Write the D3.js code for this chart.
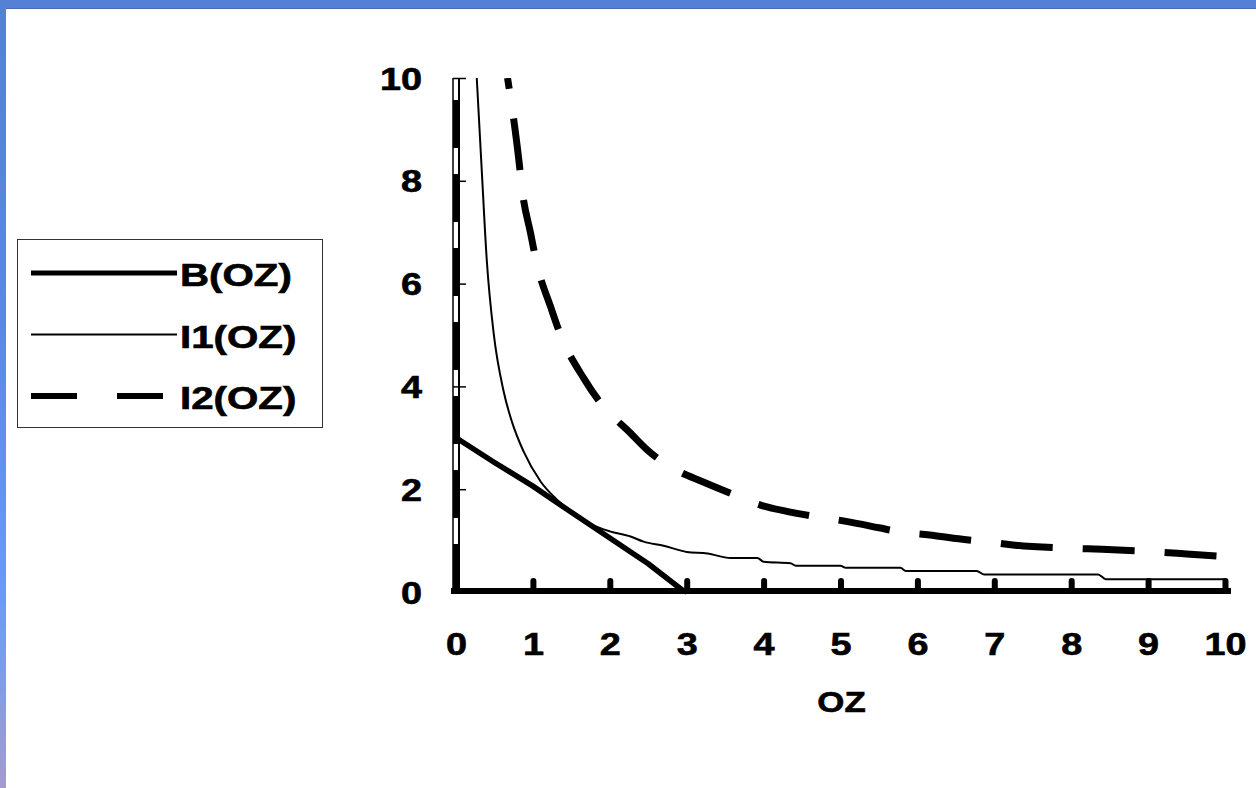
<!DOCTYPE html>
<html>
<head>
<meta charset="utf-8">
<script src="https://cdn.jsdelivr.net/npm/d3@7"></script>
<style>
  html, body { margin: 0; padding: 0; background: #ffffff; }
  svg { display: block; }
  text { font-family: "Liberation Sans", Arial, sans-serif; font-weight: bold; fill: #000; stroke: #000; stroke-width: 0.6px; }
</style>
</head>
<body>
<script>
// ---------- data ----------
const xTickValues = [0, 1, 2, 3, 4, 5, 6, 7, 8, 9, 10];
const yTickValues = [0, 2, 4, 6, 8, 10];
const xTitle = "OZ";
const seriesNames = ["B(OZ)", "I1(OZ)", "I2(OZ)"];

// B(OZ)
const bOZ = [0, 0.5, 1, 1.5, 2, 2.5, 2.95, 3];
const bVal = [3, 2.52, 2.06, 1.55, 1.05, 0.55, 0.03, 0];

// I1(OZ)
const i1OZ = [0.27, 0.335, 0.40, 0.49, 0.62, 0.73, 0.88, 1.1, 1.31, 1.53, 1.75, 2.0, 2.27, 2.44, 2.7, 3.0, 3.27, 3.57, 3.92, 4.0, 4.35, 4.42, 5.0, 5.07, 5.78, 5.85, 6.77, 6.87, 8.35, 8.45, 10];
const i1Val = [10, 8.2, 6.46, 5.03, 3.9, 3.3, 2.73, 2.15, 1.8, 1.52, 1.32, 1.18, 1.08, 0.98, 0.9, 0.78, 0.75, 0.66, 0.66, 0.59, 0.56, 0.51, 0.51, 0.47, 0.47, 0.41, 0.41, 0.34, 0.34, 0.25, 0.25];

// I2(OZ)
const i2OZ = [0.67, 0.75, 0.82, 0.86, 0.97, 1.05, 1.23, 1.36, 1.66, 1.9, 2.27, 2.49, 2.88, 3.2, 3.57, 3.96, 4.3, 4.66, 5.09, 5.5, 5.77, 6.16, 6.5, 6.88, 7.27, 8.0, 8.4, 9.07, 9.5, 10];
const i2Val = [10, 9.2, 8.37, 7.82, 6.98, 6.39, 5.55, 5.0, 4.16, 3.64, 3.09, 2.76, 2.36, 2.15, 1.92, 1.69, 1.57, 1.47, 1.37, 1.25, 1.17, 1.11, 1.04, 0.98, 0.91, 0.85, 0.83, 0.78, 0.74, 0.69];

// vertical run drawn by I1 / I2 at OZ = 0
const spikeOZ = [0, 0];
const spikeVal = [0, 10];

// ---------- layout ----------
const W = 1256, H = 788;
const svg = d3.select("body").append("svg").attr("width", W).attr("height", H);

const defs = svg.append("defs");
const grad = defs.append("linearGradient").attr("id", "leftBand")
  .attr("x1", 0).attr("y1", 0).attr("x2", 0).attr("y2", 1);
[["0%", "#5580d6"], ["40%", "#5a88e4"], ["72%", "#6699fb"], ["86%", "#7f9ceb"], ["100%", "#a59bcb"]]
  .forEach(s => grad.append("stop").attr("offset", s[0]).attr("stop-color", s[1]));

svg.append("rect").attr("x", 0).attr("y", 0).attr("width", W).attr("height", H).attr("fill", "#fff");
svg.append("rect").attr("x", 0).attr("y", 0).attr("width", 6).attr("height", H).attr("fill", "url(#leftBand)");
svg.append("rect").attr("x", 0).attr("y", 0).attr("width", W).attr("height", 8).attr("fill", "#5580d6");
svg.append("rect").attr("x", 6).attr("y", 8).attr("width", W).attr("height", 1).attr("fill", "#4a6cb8");

const x = d3.scaleLinear().domain([0, 10]).range([456, 1225]);
const y = d3.scaleLinear().domain([0, 10]).range([592, 78]);

const FONT = 31, SX = 1.22;
function stretch(sel, sx) {
  sel.each(function () {
    const t = d3.select(this);
    const tx = +t.attr("x") || 0;
    t.attr("x", 0).attr("transform", `translate(${tx},0) scale(${sx},1)`);
  });
}

const zip = (a, b) => a.map((v, i) => [v, b[i]]);
const line = d3.line().x(d => x(d[0])).y(d => y(d[1]));
const smooth = d3.line().x(d => x(d[0])).y(d => y(d[1])).curve(d3.curveMonotoneX);

defs.append("clipPath").attr("id", "plotClip").append("rect")
  .attr("x", x(0) - 12).attr("y", y(10)).attr("width", x(10) - x(0) + 24).attr("height", y(0) - y(10) + 6);

// y axis
const yAxisG = svg.append("g").attr("transform", `translate(${x(0)},0)`)
  .call(d3.axisLeft(y).tickValues(yTickValues).tickSizeInner(-10).tickSizeOuter(0).tickPadding(34));
yAxisG.select(".domain").remove();
yAxisG.selectAll(".tick line").attr("stroke", "#000").attr("stroke-width", 1.5).attr("x1", -3);
yAxisG.selectAll(".tick text").style("font-size", FONT + "px").attr("dy", "0.36em");
stretch(yAxisG.selectAll(".tick text"), SX);
svg.append("line").attr("x1", x(0) + 3).attr("x2", x(0) + 3).attr("y1", y(10)).attr("y2", y(0))
  .attr("stroke", "#000").attr("stroke-width", 2);

// series
const plot = svg.append("g").attr("clip-path", "url(#plotClip)");
const spike = zip(spikeOZ, spikeVal);
plot.append("path").datum(spike).attr("d", line).attr("transform", "translate(-3,0)")
  .attr("fill", "none").attr("stroke", "#000").attr("stroke-width", 1.5);
plot.append("path").datum(spike).attr("d", line).attr("transform", "translate(0.5,0)")
  .attr("fill", "none").attr("stroke", "#000").attr("stroke-width", 7)
  .attr("stroke-dasharray", "48,26");

plot.append("path").datum(zip(i1OZ, i1Val)).attr("d", smooth)
  .attr("fill", "none").attr("stroke", "#000").attr("stroke-width", 2).attr("stroke-linejoin", "round");
plot.append("path").datum(zip(i2OZ, i2Val)).attr("d", smooth)
  .attr("fill", "none").attr("stroke", "#000").attr("stroke-width", 7)
  .attr("stroke-dasharray", "52,30").attr("stroke-dashoffset", 41);
plot.append("path").datum(zip(bOZ, bVal)).attr("d", line)
  .attr("fill", "none").attr("stroke", "#000").attr("stroke-width", 5.5).attr("stroke-linejoin", "round");

// x axis
const xAxisG = svg.append("g").attr("transform", `translate(0,${y(0) - 1})`)
  .call(d3.axisBottom(x).tickValues(xTickValues).tickSizeInner(-12).tickSizeOuter(0).tickPadding(42));
xAxisG.select(".domain").remove();
xAxisG.selectAll(".tick line").attr("stroke", "#000").attr("stroke-width", 6).attr("stroke-linecap", "round").attr("y1", 0).attr("y2", -10);
xAxisG.selectAll(".tick text").style("font-size", FONT + "px").attr("text-anchor", "middle");
stretch(xAxisG.selectAll(".tick text"), SX);
xAxisG.append("line").attr("x1", x(0) - 5).attr("x2", x(10) + 6).attr("y1", 0).attr("y2", 0)
  .attr("stroke", "#000").attr("stroke-width", 6);

// x title
svg.append("text").attr("transform", `translate(${(x(0) + x(10)) / 2 + 1},712) scale(1.2,1)`)
  .attr("text-anchor", "middle").style("font-size", "29px").text(xTitle);

// legend
const lg = svg.append("g");
lg.append("rect").attr("x", 17.5).attr("y", 239.5).attr("width", 305).attr("height", 188)
  .attr("fill", "#fff").attr("stroke", "#333").attr("stroke-width", 1);
const legendRows = [
  { name: seriesNames[0], w: 5, dash: null, y: 273 },
  { name: seriesNames[1], w: 1.8, dash: null, y: 334.5 },
  { name: seriesNames[2], w: 6, dash: "46,40", y: 396 }
];
legendRows.forEach(r => {
  lg.append("line").attr("x1", 31).attr("x2", 177).attr("y1", r.y).attr("y2", r.y)
    .attr("stroke", "#000").attr("stroke-width", r.w).attr("stroke-dasharray", r.dash);
  lg.append("text").attr("transform", `translate(180,${r.y + 13}) scale(1.3,1)`)
    .style("font-size", FONT + "px").text(r.name);
});
</script>
</body>
</html>
